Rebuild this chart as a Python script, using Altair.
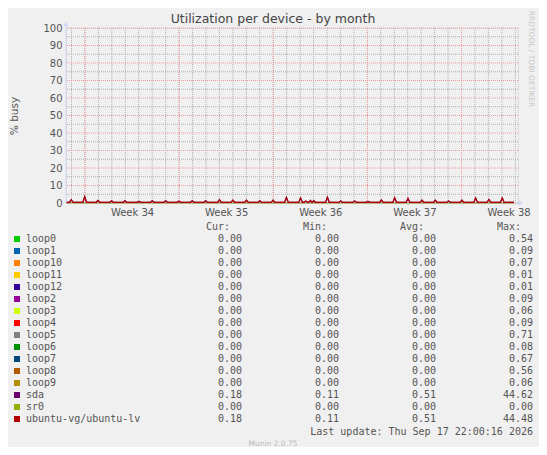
import altair as alt
import pandas as pd

# ---------------- texts ----------------
TITLE = "Utilization per device - by month"
Y_TITLE = "% busy"
WATERMARK = "RRDTOOL / TOBI OETIKER"
LAST_UPDATE = "Last update: Thu Sep 17 22:00:16 2026"
VERSION = "Munin 2.0.75"

# ---------------- legend table ----------------
series_names = ["loop0", "loop1", "loop10", "loop11", "loop12", "loop2", "loop3",
                "loop4", "loop5", "loop6", "loop7", "loop8", "loop9", "sda", "sr0",
                "ubuntu-vg/ubuntu-lv"]
series_colors = ["#00CC00", "#0066B3", "#FF8000", "#FFCC00", "#330099", "#990099",
                 "#CCFF00", "#FF0000", "#808080", "#008F00", "#00487D", "#B35A00",
                 "#B38F00", "#6B006B", "#8FB300", "#B30000"]
cur_vals = [0.00, 0.00, 0.00, 0.00, 0.00, 0.00, 0.00, 0.00, 0.00, 0.00, 0.00, 0.00, 0.00, 0.18, 0.00, 0.18]
min_vals = [0.00, 0.00, 0.00, 0.00, 0.00, 0.00, 0.00, 0.00, 0.00, 0.00, 0.00, 0.00, 0.00, 0.11, 0.00, 0.11]
avg_vals = [0.00, 0.00, 0.00, 0.00, 0.00, 0.00, 0.00, 0.00, 0.00, 0.00, 0.00, 0.00, 0.00, 0.51, 0.00, 0.51]
max_vals = [0.54, 0.09, 0.07, 0.01, 0.01, 0.09, 0.06, 0.09, 0.71, 0.08, 0.67, 0.56, 0.06, 44.62, 0.00, 44.48]
columns = ["Cur", "Min", "Avg", "Max"]
col_headers = ["Cur:", "Min:", "Avg:", "Max:"]

# series that stay at zero over the whole month
zero_series = ["loop0", "loop1", "loop10", "loop11", "loop12", "loop2", "loop3",
               "loop4", "loop5", "loop6", "loop7", "loop8", "loop9", "sr0"]
busy_series = ["sda", "ubuntu-vg/ubuntu-lv"]

# ---------------- time axis (days since Mon 17 Aug 2026, start of week 34) ----------------
x_domain = [-1.41, 32.2]
day_grid = [-1, 0, 1, 2, 3, 4, 5, 6, 7, 8, 9, 10, 11, 12, 13, 14, 15, 16, 17, 18, 19,
            20, 21, 22, 23, 24, 25, 26, 27, 28, 29, 30, 31, 32]
week_starts = [0, 7, 14, 21, 28]
week_mid = [3.5, 10.5, 17.5, 24.5, 31.5]
week_labels = ["Week 34", "Week 35", "Week 36", "Week 37", "Week 38"]

# ---------------- value axis ----------------
y_domain = [0, 100]
y_major = [0, 10, 20, 30, 40, 50, 60, 70, 80, 90, 100]
y_minor = [5, 15, 25, 35, 45, 55, 65, 75, 85, 95]

# ---------------- utilisation series (sda and ubuntu-lv coincide) ----------------
data_start, data_end = -1.35, 31.9
base_pct = 0.35
spike_day = [-1.02, -0.02, 0.97, 1.98, 2.97, 4.01, 5.00, 6.00, 6.98, 7.97, 8.97, 10.00,
             11.00, 12.01, 13.00, 13.99, 14.98, 16.03, 16.42, 16.77, 17.01, 18.03, 19.02,
             20.06, 21.05, 22.04, 23.03, 24.02, 25.06, 26.05, 27.04, 28.03, 29.05, 30.04,
             31.03]
spike_pct = [1.8, 3.6, 1.5, 1.3, 1.3, 0.9, 1.3, 1.3, 1.0, 1.3, 1.3, 1.8,
             1.6, 1.6, 1.3, 1.6, 3.2, 2.8, 1.2, 1.5, 1.3, 3.3, 1.2,
             1.2, 0.9, 1.7, 3.0, 2.6, 1.6, 1.6, 1.2, 1.6, 2.8, 2.0,
             2.8]
half_w = 0.14

# ---------------- build tables ----------------
u_day, u_pct = [data_start], [base_pct]
for d, p in zip(spike_day, spike_pct):
    u_day += [d - half_w, d, d + half_w]
    u_pct += [base_pct, p, base_pct]
u_day.append(data_end)
u_pct.append(base_pct)

busy_rows = []
for s in busy_series:
    for d, p in zip(u_day, u_pct):
        busy_rows.append({"series": s, "day": d, "pct": p})
busy_df = pd.DataFrame(busy_rows)

zero_rows = []
for s in zero_series:
    zero_rows.append({"series": s, "day": data_start, "pct": 0.0})
    zero_rows.append({"series": s, "day": data_end, "pct": 0.0})
zero_df = pd.DataFrame(zero_rows)

# ---------------- scales / axes ----------------
label_expr = "''"
for v, lab in reversed(list(zip(week_mid, week_labels))):
    label_expr = f"abs(datum.value - {v}) < 0.01 ? '{lab}' : ({label_expr})"

xscale = alt.Scale(domain=x_domain, nice=False, zero=False)
yscale = alt.Scale(domain=y_domain, nice=False, zero=False)
xaxis = alt.Axis(values=week_mid, labelExpr=label_expr, title=None, ticks=False,
                 domain=False, grid=False, labelFont="DejaVu Sans", labelFontSize=10,
                 labelColor="#555555", labelPadding=4, labelFlush=False, labelOverlap=False)
yaxis = alt.Axis(values=y_major, title=Y_TITLE, ticks=False, domain=False, grid=False,
                 labelFont="DejaVu Sans", labelFontSize=10, labelColor="#555555",
                 labelPadding=4, titleFont="DejaVu Sans", titleFontSize=10.5,
                 titleFontWeight="normal", titleColor="#555555", titleX=-52, titleY=87.5,
                 titleAngle=270, titleAlign="center", titleBaseline="middle")
color = alt.Color("series:N", scale=alt.Scale(domain=series_names, range=series_colors),
                  legend=None)


def X(field="day"):
    return alt.X(f"{field}:Q", scale=xscale, axis=xaxis)


def Y(field="pct"):
    return alt.Y(f"{field}:Q", scale=yscale, axis=yaxis)


MINOR = "#AEAEAE"
MAJOR = "#EE9A9A"
AXIS = "#CFD6F8"

minor_h = alt.Chart(pd.DataFrame({"pct": y_minor})).mark_rule(
    color=MINOR, strokeDash=[1, 1], strokeWidth=1).encode(y=Y())
minor_v = alt.Chart(pd.DataFrame({"day": day_grid})).mark_rule(
    color=MINOR, strokeDash=[1, 1], strokeWidth=1).encode(x=X())
major_h = alt.Chart(pd.DataFrame({"pct": y_major})).mark_rule(
    color=MAJOR, strokeDash=[1, 1], strokeWidth=1).encode(y=Y())
major_v = alt.Chart(pd.DataFrame({"day": week_starts})).mark_rule(
    color=MAJOR, strokeDash=[1, 1], strokeWidth=1).encode(x=X())

zero_lines = alt.Chart(zero_df).mark_line(strokeWidth=1).encode(
    x=X(), y=Y(), color=color, detail="series:N")

axis_v = alt.Chart(pd.DataFrame({"day": [x_domain[0]], "pct": [0], "pct2": [101.5]})).mark_rule(
    color=AXIS, strokeWidth=1).encode(x=X(), y=Y(), y2="pct2:Q")
axis_h = alt.Chart(pd.DataFrame({"day": [x_domain[0]], "day2": [32.3], "pct": [0]})).mark_rule(
    color=AXIS, strokeWidth=1).encode(x=X(), x2="day2:Q", y=Y())

sda_line = alt.Chart(busy_df[busy_df.series == "sda"]).mark_line(strokeWidth=1.2).encode(
    x=X(), y=Y(), color=color)
lv_line = alt.Chart(busy_df[busy_df.series == "ubuntu-vg/ubuntu-lv"]).mark_line(strokeWidth=1.2).encode(
    x=X(), y=Y(), color=color)

arrow_up = alt.Chart(pd.DataFrame({"day": [x_domain[0]], "pct": [102.3]})).mark_point(
    shape="triangle-up", filled=True, size=24, color=AXIS, opacity=1).encode(x=X(), y=Y())
arrow_right = alt.Chart(pd.DataFrame({"day": [32.42], "pct": [0]})).mark_point(
    shape="triangle-right", filled=True, size=24, color=AXIS, opacity=1).encode(x=X(), y=Y())

main = alt.layer(minor_h, minor_v, major_h, major_v, zero_lines, axis_v, axis_h,
                 sda_line, lv_line, arrow_up, arrow_right)

# ---------------- legend block ----------------
row_scale = alt.Scale(type="point", domain=["hdr"] + series_names, range=[199, 391], padding=0)
col_scale = alt.Scale(type="point", domain=columns, range=[176, 467], padding=0)

val_rows = []
for i, s in enumerate(series_names):
    for c, vals in zip(columns, [cur_vals, min_vals, avg_vals, max_vals]):
        val_rows.append({"name": s, "col": c, "val": vals[i]})
val_df = pd.DataFrame(val_rows)
hdr_df = pd.DataFrame({"name": ["hdr"] * 4, "col": columns, "label": col_headers})
names_df = pd.DataFrame({"name": series_names, "series": series_names})

MONO = "DejaVu Sans Mono"
TXT = "#555555"

leg_sq = alt.Chart(names_df).mark_square(size=36, filled=True, opacity=1).encode(
    x=alt.value(-49), y=alt.Y("name:N", scale=row_scale, axis=None), color=color)
leg_names = alt.Chart(names_df).mark_text(
    font=MONO, fontSize=10, align="left", baseline="middle", color=TXT).encode(
    x=alt.value(-40), y=alt.Y("name:N", scale=row_scale, axis=None), text="name:N")
leg_vals = alt.Chart(val_df).mark_text(
    font=MONO, fontSize=10, align="right", baseline="middle", color=TXT).encode(
    x=alt.X("col:N", scale=col_scale, axis=None),
    y=alt.Y("name:N", scale=row_scale, axis=None),
    text=alt.Text("val:Q", format=".2f"))
leg_hdr = alt.Chart(hdr_df).mark_text(
    font=MONO, fontSize=10, align="right", baseline="middle", color=TXT, dx=-12).encode(
    x=alt.X("col:N", scale=col_scale, axis=None),
    y=alt.Y("name:N", scale=row_scale, axis=None),
    text="label:N")
last_upd = alt.Chart(pd.DataFrame({"t": [LAST_UPDATE]})).mark_text(
    font=MONO, fontSize=10, align="right", baseline="middle", color=TXT).encode(
    x=alt.value(467), y=alt.value(404), text="t:N")
version = alt.Chart(pd.DataFrame({"t": [VERSION]})).mark_text(
    font="DejaVu Sans", fontSize=7.5, align="center", baseline="middle", color="#BBBBBB").encode(
    x=alt.value(207), y=alt.value(416), text="t:N")
watermark = alt.Chart(pd.DataFrame({"t": [WATERMARK]})).mark_text(
    font="DejaVu Sans", fontSize=7.5, align="center", baseline="middle", color="#C8C8C8",
    angle=90).encode(x=alt.value(465), y=alt.value(31), text="t:N")
title = alt.Chart(pd.DataFrame({"t": [TITLE]})).mark_text(
    font="DejaVu Sans", fontSize=12.5, align="center", baseline="middle", color="#444444").encode(
    x=alt.value(207), y=alt.value(-9), text="t:N")

legend = alt.layer(leg_sq, leg_names, leg_vals, leg_hdr, last_upd, version, watermark, title)

chart = alt.layer(main, legend).resolve_scale(x="independent", y="independent").properties(
    width=452, height=175,
    padding={"left": 58, "top": 20, "right": 21, "bottom": 244},
    autosize=alt.AutoSizeParams(type="none"),
    background="#F0F0F0",
).configure_view(fill="white", stroke="transparent").configure(font="DejaVu Sans")

chart.save("out.html", embed_options={"renderer": "svg", "actions": False})
